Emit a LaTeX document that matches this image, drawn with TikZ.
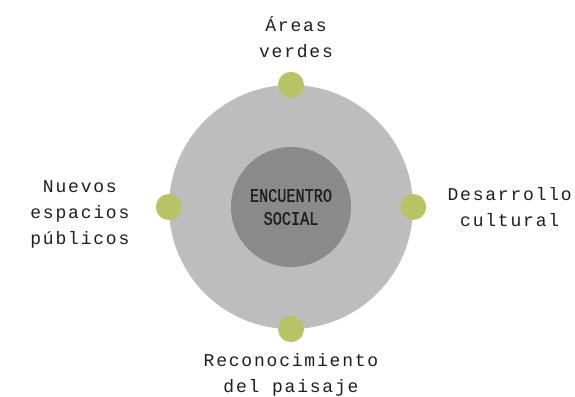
\documentclass[tikz,border=0pt]{standalone}
\usepackage{fontspec}
\usepackage{tikz}
\usetikzlibrary{positioning}
\newfontfamily\tagfont[LetterSpace=10]{Liberation Mono}
\newfontfamily\corefont[FakeStretch=0.8,FakeBold=1.2]{Liberation Mono}
\definecolor{ringgray}{RGB}{189,189,189}
\definecolor{coregray}{RGB}{138,138,138}
\definecolor{dotgreen}{RGB}{184,196,99}
\definecolor{inkgray}{RGB}{30,30,30}
\tikzset{
  ring/.style={circle,fill=ringgray,minimum size=244pt,inner sep=0pt},
  core/.style={circle,fill=coregray,minimum size=120pt,inner sep=0pt,align=center,text=inkgray,font=\corefont\fontsize{19}{23}\selectfont},
  dot/.style={circle,fill=dotgreen,minimum size=26pt,inner sep=0pt},
  tag/.style={align=center,inner sep=0pt,text=inkgray,font=\tagfont\fontsize{18}{26}\selectfont}
}

\begin{document}
\begin{tikzpicture}[x=1pt,y=-1pt]
  \useasboundingbox (0,0) rectangle (575,396);
  \node[ring] (outer) at (291,207) {};
  \node[core] (inner) at (291,207) {ENCUENTRO\\SOCIAL};
  \node[dot] (dottop) at (outer.north) {};
  \node[dot] (dotleft) at (outer.west) {};
  \node[dot] (dotright) at (outer.east) {};
  \node[dot] (dotbottom) at (outer.south) {};
  \node[tag,above=14pt of dottop,xshift=5pt] (verdes) {Áreas\\verdes};
  \node[tag,left=26pt of dotleft,yshift=-7pt] (espacios) {Nuevos\\espacios\\públicos};
  \node[tag,right=21pt of dotright] (cultural) {Desarrollo\\cultural};
  \node[tag,below=11pt of dotbottom] (paisaje) {Reconocimiento\\del paisaje};
\end{tikzpicture}
\end{document}
